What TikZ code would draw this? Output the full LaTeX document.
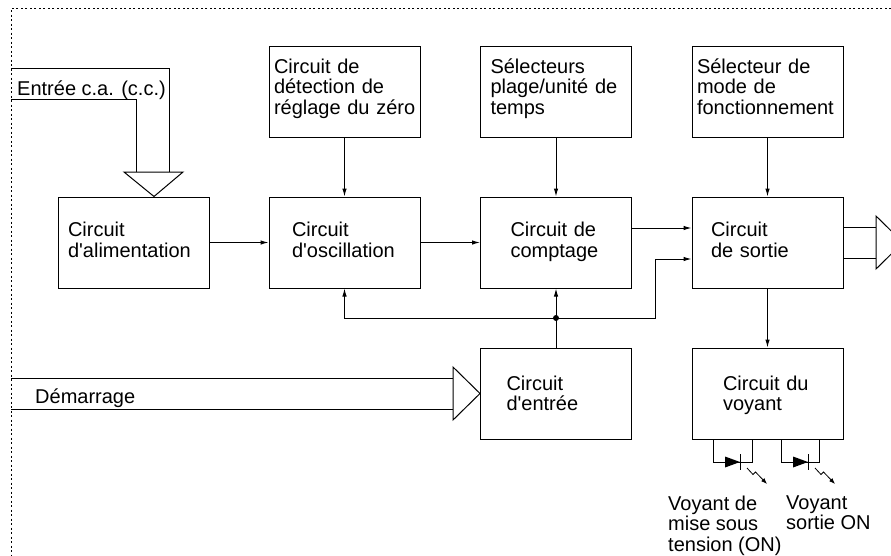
\documentclass[tikz,border=0pt]{standalone}
\usepackage{fontspec}
\setmainfont{Liberation Sans}
\usetikzlibrary{arrows.meta}
\begin{document}
\begin{tikzpicture}[x=1pt,y=-1pt,
  every node/.style={font=\fontsize{20}{20.5}\selectfont},
  blk/.style={draw, line width=1pt, minimum width=151pt, minimum height=91pt, inner ysep=0pt, align=left},
  toprow/.style={blk, text height=5pt, text depth=42pt},
  midrow/.style={blk, text height=10pt, text depth=22pt},
  botrow/.style={blk, text height=10pt, text depth=17pt},
  conn/.style={line width=1pt, -{Latex[length=8pt,width=4.5pt]}},
  wire/.style={line width=1pt},
  bigarrow/.style={line width=1pt, fill=white},
  lightarrow/.style={line width=0.8pt, -{Latex[length=6pt,width=4.5pt]}},
  txt/.style={inner sep=0pt, align=left},
  border/.style={dash pattern=on 2pt off 2.5pt, line width=1pt}
]
\useasboundingbox (0,0) rectangle (891,555);
\fill[white] (0,0) rectangle (891,555);

% frame
\draw[border] (891,8) -- (11,8) -- (11,555);

% blocks
\node[toprow, inner xsep=5pt, text width=141pt] (det) at (344.5,91.5) {Circuit de\\détection de\\\mbox{réglage du zéro}};
\node[toprow, inner xsep=10pt, text width=131pt] (sel) at (556,91.5) {Sélecteurs\\\mbox{plage/unité de}\\temps};
\node[toprow, inner xsep=5pt, text width=141pt] (mode) at (767.5,91.5) {Sélecteur de\\mode de\\\mbox{fonctionnement}};
\node[midrow, inner xsep=10pt, text width=131pt] (alim) at (133.5,242.5) {Circuit\\\mbox{d\textquotesingle alimentation}};
\node[midrow, inner xsep=23pt, text width=105pt] (osc) at (344.5,242.5) {Circuit\\\mbox{d\textquotesingle oscillation}};
\node[midrow, inner xsep=30pt, text width=91pt] (cpt) at (556,242.5) {Circuit de\\comptage};
\node[midrow, inner xsep=19pt, text width=113pt] (sort) at (767.5,242.5) {Circuit\\de sortie};
\node[botrow, inner xsep=26pt, text width=99pt] (entr) at (556,393.5) {Circuit\\d\textquotesingle entrée};
\node[botrow, inner xsep=31pt, text width=89pt] (voy) at (767.5,393.5) {Circuit du\\voyant};

% connectors
\draw[conn] (det) -- (osc);
\draw[conn] (sel) -- (cpt);
\draw[conn] (mode) -- (sort);
\draw[conn] (alim) -- (osc);
\draw[conn] (osc) -- (cpt);
\draw[conn] ([yshift=14.5pt]cpt.east) -- ([yshift=14.5pt]sort.west);
\coordinate (jn) at (556,318);
\coordinate (bend) at (655,318);
\draw[conn] (entr) -- (cpt);
\draw[conn] (jn) -| (osc);
\draw[conn] (jn) -- (bend) |- ([yshift=-16.5pt]sort.west);
\fill (jn) circle (3pt);
\draw[conn] (sort) -- (voy);

% AC input arrow
\draw[wire] (11,68) -- (169,68) -- (169,172);
\draw[wire] (11,99) -- (136,99) -- (136,172);
\draw[bigarrow] (124,172) -- (183,172) -- ([xshift=20.5pt]alim.north) -- cycle;
\node[txt, anchor=base west] (ein) at (17,95) {Entrée c.a. (c.c.)};

% start arrow
\draw[wire] (11,378) -- (453,378);
\draw[wire] (11,409) -- (453,409);
\draw[bigarrow] (453,367) -- (entr.west) -- (453,420) -- cycle;
\node[txt, anchor=base west] (dem) at (35,403) {Démarrage};

% output arrow
\draw[wire] ([yshift=15.5pt]sort.east) -- (876,227);
\draw[wire] ([yshift=-15.5pt]sort.east) -- (876,258);
\draw[bigarrow] (876,216) -- (903,242.5) -- (876,269) -- cycle;

% LEDs
\draw[wire] ([xshift=-54.5pt]voy.south) -- (713,462) -- (752,462) -- ([xshift=-15.5pt]voy.south);
\fill (725,456.5) -- (740,462) -- (725,467.5) -- cycle;
\draw[wire] (740,454) -- (740,470);
\draw[lightarrow] (747,468) -- (753,474.5) -- (755.5,472) -- (767,484);

\draw[wire] ([xshift=13.5pt]voy.south) -- (781,462) -- (819,462) -- ([xshift=51.5pt]voy.south);
\fill (793,456.5) -- (808,462) -- (793,467.5) -- cycle;
\draw[wire] (808,454) -- (808,470);
\draw[lightarrow] (815,468) -- (821,474.5) -- (823.5,472) -- (835,484);

\node[txt, anchor=north west] (v1) at (668,495.5) {Voyant de\\mise sous\\tension (ON)};
\node[txt, anchor=north west] (v2) at (786,495.5) {Voyant\\sortie ON};
\end{tikzpicture}
\end{document}
